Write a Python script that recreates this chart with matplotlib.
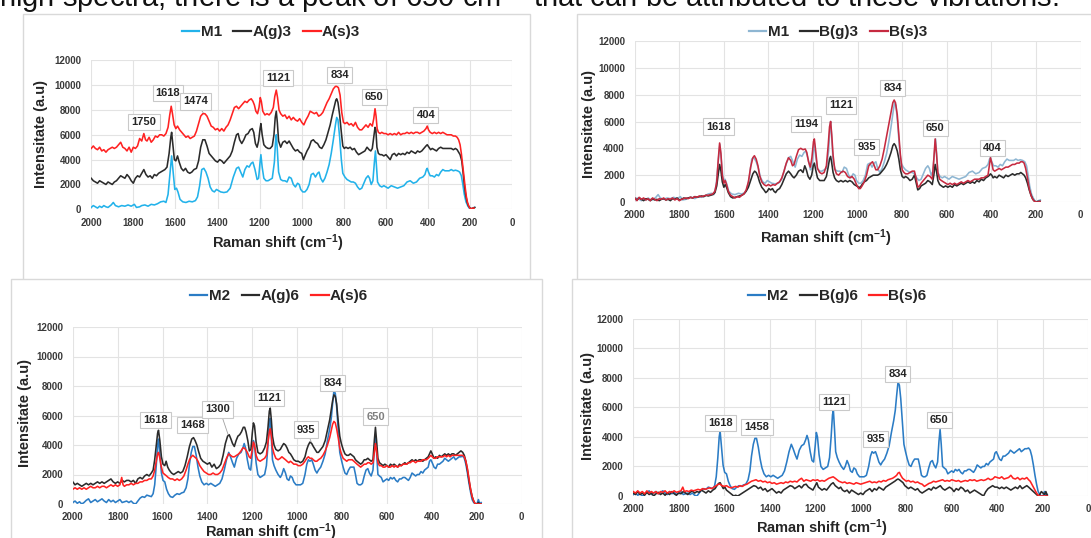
import matplotlib
matplotlib.use("Agg")
import matplotlib.pyplot as plt
from matplotlib.patches import Rectangle

# ---------------------------------------------------------------- data
# Raman spectra: (shift cm-1, intensity a.u.)
m1 = [(2000,150),(1990,300),(1980,200),(1970,100),(1960,250),(1950,150),(1940,300),(1930,200),
      (1920,150),(1905,350),(1895,550),(1885,300),(1870,200),(1855,300),(1840,250),(1825,350),
      (1810,250),(1795,400),(1785,150),(1770,200),(1760,300),(1745,350),(1730,250),(1715,400),
      (1700,350),(1685,450),(1670,600),(1655,650),(1645,550),(1635,1200),(1625,3000),(1618,4300),
      (1612,3200),(1603,1600),(1595,1700),(1588,1400),(1578,800),(1565,600),(1550,550),(1535,650),
      (1520,600),(1505,700),(1495,1000),(1485,1900),(1475,3200),(1465,3300),(1455,3000),(1445,2500),
      (1435,1800),(1425,1500),(1415,1400),(1405,1600),(1395,1500),(1385,1400),(1370,1350),(1355,1400),
      (1340,1700),(1325,2600),(1310,3300),(1300,3400),(1290,3000),(1280,2600),(1270,3200),(1260,3500),
      (1250,3400),(1240,3700),(1232,3800),(1222,3200),(1212,2400),(1205,2500),(1198,3800),(1194,4400),
      (1188,3400),(1180,2500),(1170,2300),(1160,2300),(1150,2400),(1140,2500),(1130,3800),(1124,5600),
      (1121,6000),(1116,4800),(1110,3000),(1100,2400),(1090,2300),(1080,2300),(1070,2200),(1060,2600),
      (1050,2500),(1040,2000),(1030,1800),(1020,2100),(1012,2000),(1005,1600),(995,1400),(985,1400),
      (975,1600),(965,2000),(955,2800),(945,2900),(935,2600),(925,2900),(918,3000),(910,2500),
      (900,2200),(890,2500),(880,3000),(870,3600),(860,4500),(850,5600),(840,6800),(834,7400),
      (828,7200),(820,5800),(812,4000),(805,2900),(795,2600),(785,2400),(775,2300),(765,2200),
      (755,2200),(745,2100),(735,1800),(725,1600),(715,1700),(705,2100),(695,2500),(685,2700),
      (678,2500),(670,2000),(662,2300),(655,3800),(650,4700),(645,3500),(640,2200),(630,1900),
      (620,1800),(610,1900),(600,1800),(590,1700),(575,1900),(560,1800),(545,1700),(530,1800),
      (515,1900),(500,2200),(485,2300),(470,2100),(455,2200),(440,2500),(425,2600),(415,2800),
      (408,3200),(404,3300),(398,3000),(390,2700),(380,2700),(370,2600),(360,2800),(350,2700),
      (340,3000),(330,3200),(320,3100),(310,3100),(300,3100),(290,3200),(280,3100),(270,3150),
      (260,3100),(250,3000),(242,2700),(235,2000),(228,1200),(220,600),(212,300),(205,100),
      (198,0),(190,100),(180,150)]

a_g3 = [(2000,2500),(1990,2300),(1980,2200),(1970,2100),(1960,2300),(1950,2200),(1940,2100),(1930,2000),
        (1920,2200),(1910,2100),(1900,2000),(1890,2200),(1880,2300),(1870,2500),(1860,2700),(1850,2600),
        (1840,2500),(1830,2800),(1820,2600),(1810,2300),(1800,2100),(1790,2500),(1780,2700),(1770,2600),
        (1760,2900),(1750,3200),(1740,2800),(1730,2600),(1720,2700),(1710,2500),(1700,2800),(1690,2700),
        (1680,2900),(1670,3000),(1660,3100),(1650,3200),(1640,3400),(1630,4500),(1622,5800),(1618,6200),
        (1612,5200),(1605,4000),(1598,3900),(1590,4300),(1582,3800),(1572,3300),(1562,3100),(1552,3300),
        (1542,3000),(1532,2900),(1522,3000),(1512,3200),(1500,3300),(1490,3900),(1480,5000),(1470,5600),
        (1460,5600),(1450,5100),(1440,4500),(1430,4300),(1420,4100),(1410,3900),(1400,3800),(1390,4000),
        (1380,3900),(1370,3700),(1360,3900),(1350,4100),(1340,4300),(1330,4700),(1320,5400),(1310,6000),
        (1302,6100),(1295,5600),(1285,5300),(1275,5600),(1265,6000),(1255,6100),(1245,6400),(1235,6500),
        (1228,6200),(1220,5300),(1212,5000),(1205,5500),(1198,6500),(1194,6900),(1188,6000),(1180,5200),
        (1170,5000),(1160,4900),(1150,4900),(1140,5100),(1132,6000),(1126,7400),(1121,7900),(1116,7000),
        (1110,5500),(1100,5000),(1090,5400),(1080,5500),(1070,5300),(1060,5500),(1050,5200),(1040,4900),
        (1030,4700),(1020,4800),(1010,4600),(1000,4500),(992,4000),(985,4300),(975,4700),(965,5000),
        (955,5500),(945,5600),(935,5400),(925,5300),(915,5000),(905,4900),(895,5200),(885,5600),
        (875,6200),(865,6800),(855,7600),(845,8300),(838,8800),(834,8900),(828,8600),(820,7600),
        (812,6200),(805,5100),(798,4900),(790,5000),(780,4900),(770,5000),(760,4800),(750,4900),
        (740,4600),(730,4400),(720,4500),(710,4600),(700,4700),(690,5000),(680,4800),(672,4700),
        (665,4900),(658,5800),(652,6600),(648,6400),(643,5000),(636,4500),(628,4400),(620,4400),
        (610,4300),(600,4400),(590,4200),(580,4000),(570,4400),(560,4500),(550,4300),(540,4500),
        (530,4400),(520,4500),(510,4400),(500,4600),(490,4500),(480,4700),(470,4600),(460,4500),
        (450,4700),(440,4600),(430,4700),(420,4900),(410,5100),(404,5200),(396,5000),(388,4800),
        (380,4900),(370,4800),(360,4700),(350,4900),(340,5000),(330,4900),(320,4900),(310,4900),
        (300,4900),(290,4900),(280,4800),(270,4900),(262,4800),(255,4600),(248,4400),(240,3900),
        (234,3000),(228,2000),(222,1200),(215,600),(208,250),(200,100),(192,0),(185,100),(178,150)]

a_s3 = [(2000,4900),(1990,5100),(1980,4900),(1970,4800),(1960,5000),(1950,4700),(1940,4800),(1930,4600),
        (1920,4800),(1910,4900),(1900,5000),(1890,4900),(1880,5000),(1870,5200),(1860,5400),(1850,5000),
        (1840,4900),(1830,4700),(1820,5000),(1810,4600),(1800,5000),(1790,4900),(1780,5100),(1770,5700),
        (1760,5500),(1750,6100),(1742,5600),(1735,5500),(1725,5800),(1715,5400),(1705,5600),(1695,5900),
        (1685,5800),(1675,6000),(1665,6000),(1655,5900),(1645,6100),(1635,6600),(1627,7600),(1620,8300),
        (1614,7700),(1606,6800),(1598,6500),(1590,6700),(1580,6400),(1570,6200),(1560,6000),(1550,5800),
        (1540,5900),(1530,5700),(1520,5800),(1510,5900),(1500,6300),(1490,6900),(1480,7500),(1470,7700),
        (1460,7700),(1450,7500),(1440,7100),(1430,6700),(1420,6600),(1410,6400),(1400,6500),(1390,6300),
        (1380,6500),(1370,6300),(1360,6600),(1350,6800),(1340,7200),(1330,7700),(1320,8200),(1310,8300),
        (1300,8100),(1290,8300),(1280,8500),(1270,8700),(1260,8600),(1250,8800),(1240,8900),(1232,8700),
        (1225,8400),(1218,7900),(1210,7700),(1203,8200),(1197,9000),(1192,8700),(1185,7900),(1175,7600),
        (1165,7700),(1155,7600),(1145,7800),(1135,8200),(1128,9100),(1121,9600),(1115,9000),(1108,8000),
        (1100,7700),(1090,7500),(1080,7600),(1070,7300),(1060,7500),(1050,7200),(1040,7400),(1030,7200),
        (1020,7100),(1010,7300),(1000,7000),(990,6800),(980,7200),(970,7500),(960,7900),(950,7800),
        (940,7700),(930,7800),(920,7500),(910,7600),(900,7800),(890,8200),(880,8600),(870,8900),
        (860,9300),(850,9700),(840,9900),(834,9900),(826,9800),(818,9200),(810,7800),(802,7000),
        (795,6900),(785,7000),(775,6800),(765,6900),(755,6700),(745,7000),(735,6600),(725,6400),
        (715,6400),(705,6600),(695,6800),(685,6600),(675,6900),(665,6700),(658,7300),(652,8100),
        (647,7500),(642,6500),(636,6200),(628,6100),(620,6200),(610,6100),(600,6100),(590,6000),
        (580,6100),(570,6000),(560,6100),(550,6000),(540,6200),(530,6000),(520,6100),(510,6100),
        (500,6200),(490,6100),(480,6200),(470,6100),(460,6200),(450,6200),(440,6100),(430,6200),
        (420,6300),(410,6500),(404,6700),(398,6400),(390,6200),(380,6100),(370,6200),(360,6100),
        (350,6200),(340,6100),(330,6200),(320,6100),(310,6000),(300,6000),(290,6000),(280,5900),
        (270,5900),(262,5800),(255,5600),(248,5200),(242,4500),(236,3600),(230,2700),(224,1800),
        (218,1000),(212,500),(205,200),(198,0),(190,100),(182,100)]

b_g3 = [(2000,300),(1990,150),(1980,300),(1970,200),(1960,100),(1950,250),(1940,200),(1930,100),
        (1920,250),(1910,150),(1900,200),(1890,100),(1880,200),(1870,250),(1860,150),(1850,200),
        (1840,100),(1830,250),(1820,200),(1810,300),(1800,150),(1790,200),(1780,300),(1770,250),
        (1760,300),(1750,350),(1740,300),(1730,400),(1720,350),(1710,400),(1700,450),(1690,400),
        (1680,500),(1670,450),(1660,500),(1650,550),(1640,700),(1632,1200),(1625,2100),(1619,2800),
        (1613,2300),(1607,1500),(1600,1100),(1594,1300),(1588,1100),(1580,700),(1570,400),(1560,300),
        (1550,350),(1540,400),(1530,450),(1520,500),(1510,600),(1500,800),(1490,1100),(1480,1600),
        (1470,2100),(1462,2300),(1455,2200),(1447,1900),(1440,1500),(1430,1100),(1420,900),(1412,700),
        (1405,800),(1398,1000),(1390,900),(1382,1000),(1375,800),(1368,700),(1360,900),(1350,1000),
        (1340,1300),(1330,1700),(1320,2100),(1310,2300),(1300,2100),(1292,1900),(1285,1800),(1275,2000),
        (1265,2300),(1255,2400),(1245,2200),(1237,2700),(1230,2400),(1222,1900),(1214,1700),(1206,2000),
        (1199,2700),(1194,2900),(1188,2400),(1180,1800),(1170,1600),(1160,1600),(1150,1600),(1140,1900),
        (1132,2600),(1126,3200),(1121,3400),(1116,2900),(1110,2200),(1103,1800),(1095,1600),(1085,1500),
        (1075,1600),(1065,1500),(1055,1600),(1045,1500),(1035,1600),(1025,1500),(1015,1300),(1005,1200),
        (995,1100),(988,1100),(980,1300),(970,1500),(960,1600),(950,1800),(940,1900),(930,2000),
        (920,2000),(910,2000),(900,2100),(890,2300),(880,2500),(870,2800),(860,3200),(850,3700),
        (842,4200),(836,4350),(830,4200),(822,3800),(815,3200),(808,2400),(800,1900),(792,1800),
        (785,1900),(775,1800),(765,1600),(755,1700),(745,2000),(738,1500),(730,900),(722,1000),
        (715,1200),(705,1300),(695,1400),(685,1600),(675,1500),(665,1300),(658,2000),(652,2800),
        (646,2300),(640,1600),(632,1300),(624,1200),(615,1100),(605,1200),(595,1100),(585,1200),
        (575,1100),(565,1300),(555,1200),(545,1300),(535,1400),(525,1300),(515,1400),(505,1500),
        (495,1400),(485,1500),(475,1400),(465,1600),(455,1500),(445,1700),(435,1600),(425,1800),
        (415,1900),(408,2000),(404,2100),(398,2000),(392,1800),(385,1900),(375,1800),(365,2000),
        (355,1900),(345,1800),(335,2000),(325,1900),(315,2000),(305,2100),(295,2000),(285,2100),
        (275,2100),(268,2200),(260,2100),(253,2000),(246,1800),(238,1400),(230,900),(222,500),
        (214,200),(206,50),(198,0),(190,50),(182,50)]

b_s3 = [(2000,300),(1990,100),(1980,350),(1970,200),(1960,300),(1950,150),(1940,250),(1930,100),
        (1920,300),(1910,200),(1900,100),(1890,250),(1880,200),(1870,300),(1860,150),(1850,250),
        (1840,200),(1830,300),(1820,150),(1810,250),(1800,100),(1790,200),(1780,250),(1770,300),
        (1760,250),(1750,350),(1740,300),(1730,400),(1720,350),(1710,450),(1700,400),(1690,450),
        (1680,500),(1670,500),(1660,550),(1650,600),(1640,800),(1632,1500),(1625,3200),(1619,4400),
        (1613,3600),(1607,2000),(1600,1400),(1594,1600),(1588,1300),(1580,800),(1570,500),(1560,400),
        (1550,300),(1540,400),(1530,350),(1520,500),(1510,600),(1500,900),(1490,1500),(1480,2600),
        (1470,3300),(1463,3450),(1455,3200),(1447,2700),(1440,2000),(1430,1500),(1420,1300),(1410,1200),
        (1400,1300),(1390,1200),(1380,1300),(1370,1250),(1360,1400),(1350,1500),(1340,1800),(1330,2300),
        (1320,2900),(1310,3300),(1300,3100),(1292,2700),(1285,2800),(1275,3400),(1265,3900),(1255,4000),
        (1245,3900),(1235,3950),(1228,3700),(1220,3000),(1212,2600),(1205,3300),(1198,4500),(1194,4700),
        (1188,3800),(1180,2500),(1170,2200),(1160,2100),(1150,2200),(1140,2700),(1132,4200),(1126,5600),
        (1121,6000),(1116,5000),(1110,3500),(1103,2500),(1095,2100),(1085,2000),(1075,2200),(1065,2300),
        (1055,2200),(1045,1900),(1035,1800),(1025,1900),(1015,1700),(1005,1300),(995,1000),(988,1000),
        (980,1200),(970,1500),(960,2000),(950,2700),(940,2900),(933,3000),(925,2700),(918,2400),
        (910,2400),(900,2700),(890,3200),(880,4000),(870,4900),(860,5800),(850,6700),(842,7400),
        (836,7600),(830,7400),(822,6500),(815,5000),(808,3500),(800,2400),(792,2200),(785,2100),
        (775,2100),(765,2200),(755,2300),(745,2300),(738,1800),(730,1100),(722,1200),(715,1400),
        (705,1600),(695,1800),(685,2000),(675,1900),(665,1700),(658,3200),(652,4700),(646,3600),
        (640,2200),(632,1700),(624,1600),(615,1500),(605,1400),(595,1300),(585,1400),(575,1300),
        (565,1400),(555,1300),(545,1400),(535,1500),(525,1400),(515,1500),(505,1600),(495,1500),
        (485,1600),(475,1700),(465,1700),(455,1700),(445,1800),(435,1800),(425,1900),(415,2000),
        (408,2800),(404,3300),(398,2900),(392,2400),(385,2300),(375,2400),(365,2500),(355,2400),
        (345,2500),(335,2600),(325,2600),(315,2700),(305,2800),(295,2800),(285,2900),(275,2900),
        (268,3000),(260,3000),(253,2900),(246,2500),(238,1800),(230,1000),(222,500),(214,200),
        (206,50),(198,0),(190,0),(182,50)]

m2 = [(2000,100),(1990,200),(1980,50),(1970,150),(1960,0),(1950,100),(1940,250),(1930,350),
      (1920,100),(1910,200),(1900,300),(1890,150),(1880,250),(1870,350),(1860,200),(1850,100),
      (1840,300),(1830,150),(1820,250),(1810,100),(1800,200),(1790,300),(1780,100),(1770,150),
      (1760,200),(1750,100),(1740,200),(1730,50),(1720,0),(1710,200),(1700,400),(1690,500),
      (1680,450),(1670,600),(1660,550),(1650,500),(1642,700),(1635,1300),(1628,2600),(1622,4000),
      (1618,4400),(1612,3300),(1605,2100),(1598,1600),(1590,1500),(1582,1000),(1574,700),(1565,500),
      (1555,450),(1545,600),(1535,700),(1525,650),(1515,750),(1505,800),(1495,1100),(1487,1700),
      (1480,2700),(1472,3500),(1465,3900),(1458,3900),(1450,3300),(1442,2500),(1434,1900),(1425,1500),
      (1415,1300),(1405,1400),(1395,1300),(1385,1400),(1375,1300),(1365,1200),(1355,1300),(1345,1400),
      (1335,1700),(1325,2300),(1315,3000),(1305,3500),(1297,3200),(1288,2800),(1280,2500),(1270,3100),
      (1260,3400),(1250,3500),(1242,3800),(1236,4100),(1230,3800),(1222,3000),(1214,2400),(1207,2300),
      (1200,3400),(1195,4300),(1190,4000),(1183,2800),(1175,2000),(1165,1800),(1155,1900),(1145,2000),
      (1137,2600),(1130,4000),(1124,5500),(1120,5800),(1115,4500),(1110,3000),(1103,2600),(1095,2300),
      (1085,2000),(1075,1800),(1068,2000),(1060,2400),(1052,2100),(1045,1700),(1037,1600),(1030,1900),
      (1022,1800),(1015,1500),(1005,1300),(995,1300),(985,1300),(975,1400),(965,2000),(957,2700),
      (950,3000),(943,2900),(935,3000),(928,2700),(920,2300),(912,2100),(905,2300),(895,2500),
      (885,2900),(875,3400),(865,4300),(855,5100),(848,5800),(842,6800),(836,7700),(830,7500),
      (824,6600),(817,5000),(810,3500),(803,3000),(795,2500),(787,2100),(779,2000),(771,2300),
      (763,2500),(755,2500),(747,2500),(740,2000),(733,1400),(725,1300),(717,1300),(709,1400),
      (701,1900),(693,2300),(685,2400),(678,2100),(670,1900),(662,2300),(656,3700),(651,4500),
      (646,3500),(640,2000),(633,1900),(625,1800),(617,1500),(609,1600),(600,1700),(592,1600),
      (584,1800),(576,1700),(568,1800),(560,1600),(552,1500),(544,1700),(536,1700),(528,1800),
      (520,1800),(512,1700),(504,1600),(496,1800),(488,2100),(480,2000),(472,1900),(464,2000),
      (456,2000),(448,2200),(440,2100),(432,2300),(424,2400),(416,2500),(410,2900),(404,3000),
      (398,2800),(390,2500),(382,2400),(374,2700),(366,2700),(358,2800),(350,2900),(342,3100),
      (334,3000),(326,2900),(318,3000),(310,3100),(302,3200),(294,3000),(286,3100),(278,3200),
      (270,3200),(262,3250),(255,3100),(248,2700),(241,2100),(234,1400),(227,800),(220,300),
      (213,100),(206,0),(199,0),(192,300),(186,0),(180,100)]

a_g6 = [(2000,1500),(1990,1300),(1980,1400),(1970,1300),(1960,1200),(1950,1300),(1940,1400),(1930,1300),
        (1920,1400),(1910,1300),(1900,1400),(1890,1500),(1880,1400),(1870,1500),(1860,1400),(1850,1500),
        (1840,1600),(1830,1700),(1820,1500),(1810,1400),(1800,1500),(1790,1400),(1780,1600),(1770,1500),
        (1760,1600),(1750,1600),(1740,1500),(1730,1600),(1720,1400),(1710,1700),(1700,1800),(1690,1700),
        (1680,1900),(1670,2000),(1660,1900),(1650,2100),(1642,2300),(1635,3000),(1628,4000),(1622,4800),
        (1618,5000),(1612,4300),(1605,3200),(1598,2700),(1590,2600),(1584,2900),(1577,2500),(1570,2300),
        (1560,2100),(1550,2000),(1540,2100),(1530,2200),(1520,2100),(1510,2200),(1500,2600),(1490,3200),
        (1480,3900),(1470,4400),(1462,4500),(1455,4300),(1447,4000),(1440,3600),(1430,3100),(1420,2900),
        (1410,2800),(1400,2700),(1390,2800),(1380,2500),(1370,2700),(1360,2400),(1350,2500),(1340,2700),
        (1330,3300),(1320,4100),(1310,4600),(1303,4700),(1295,4400),(1288,4100),(1280,3900),(1272,4300),
        (1264,4600),(1256,4700),(1248,4900),(1240,5200),(1234,5200),(1228,4900),(1220,4300),(1213,3600),
        (1206,3700),(1200,4800),(1195,5500),(1190,5300),(1183,4200),(1175,3500),(1165,3400),(1155,3500),
        (1145,3800),(1137,4200),(1130,5200),(1124,6300),(1120,6500),(1115,5700),(1110,4600),(1103,4000),
        (1095,3700),(1085,3600),(1075,3700),(1068,3900),(1060,4100),(1052,4000),(1045,3800),(1037,3500),
        (1030,3400),(1022,3200),(1015,3000),(1005,2900),(995,2900),(985,2800),(975,2900),(965,3200),
        (957,3700),(950,4000),(943,4200),(935,4100),(928,3900),(920,3700),(912,3500),(905,3500),
        (895,3700),(885,3900),(875,4300),(865,5000),(855,5700),(848,6400),(842,7000),(836,7400),
        (830,7300),(824,6800),(817,5600),(810,4600),(803,4100),(795,3700),(787,3400),(779,3300),
        (771,3300),(763,3400),(755,3300),(747,3200),(740,3000),(733,2900),(725,2800),(717,2700),
        (709,2800),(701,3000),(693,3000),(685,3100),(678,3000),(670,2900),(662,3000),(656,4300),
        (651,5200),(646,4300),(640,3100),(633,2800),(625,2700),(617,2600),(609,2700),(600,2600),
        (592,2500),(584,2700),(576,2600),(568,2700),(560,2600),(552,2500),(544,2700),(536,2600),
        (528,2700),(520,2800),(512,2700),(504,2800),(496,2900),(488,3000),(480,2900),(472,3000),
        (464,2900),(456,3000),(448,3000),(440,2900),(432,3000),(424,3100),(416,3200),(410,3400),
        (404,3600),(398,3400),(390,3100),(382,3200),(374,3100),(366,3300),(358,3200),(350,3300),
        (342,3400),(334,3300),(326,3400),(318,3300),(310,3400),(302,3400),(294,3300),(286,3400),
        (278,3500),(270,3600),(262,3500),(255,3300),(248,2900),(241,2300),(234,1600),(227,1000),
        (220,500),(213,200),(206,0),(199,0),(192,100),(186,0),(180,0)]

a_s6 = [(2000,1000),(1990,1100),(1980,1000),(1970,1100),(1960,1000),(1950,1100),(1940,1000),(1930,1100),
        (1920,1200),(1910,1100),(1900,1100),(1890,1200),(1880,1100),(1870,1200),(1860,1200),(1850,1100),
        (1840,1200),(1830,1300),(1820,1200),(1810,1300),(1800,1200),(1790,1300),(1782,1800),(1776,1300),
        (1770,1200),(1760,1300),(1750,1300),(1740,1400),(1730,1300),(1720,1400),(1710,1400),(1700,1500),
        (1690,1500),(1680,1600),(1670,1600),(1660,1700),(1650,1700),(1642,1900),(1635,2300),(1628,2900),
        (1622,3400),(1618,3500),(1612,3100),(1605,2500),(1598,2100),(1590,2000),(1582,1900),(1575,1800),
        (1565,1700),(1555,1700),(1545,1600),(1535,1700),(1525,1600),(1515,1700),(1505,1900),(1495,2300),
        (1487,2700),(1480,3000),(1472,3200),(1465,3300),(1458,3200),(1450,3100),(1442,2900),(1434,2600),
        (1425,2400),(1415,2200),(1405,2100),(1395,2000),(1385,2000),(1375,2100),(1365,2000),(1355,2000),
        (1345,2100),(1335,2300),(1325,2700),(1315,3100),(1305,3400),(1297,3300),(1288,3200),(1280,3200),
        (1270,3300),(1260,3400),(1250,3600),(1242,3800),(1236,3800),(1230,3700),(1222,3500),(1214,3200),
        (1207,3100),(1200,3700),(1195,4200),(1190,4000),(1183,3300),(1175,3000),(1165,2900),(1155,3000),
        (1145,3100),(1137,3300),(1130,4200),(1124,4900),(1120,5100),(1115,4600),(1110,3800),(1103,3400),
        (1095,3100),(1085,3000),(1075,3100),(1068,3200),(1060,3100),(1052,3000),(1045,2900),(1037,2800),
        (1030,2900),(1022,2800),(1015,2700),(1005,2700),(995,2600),(985,2600),(975,2700),(965,2900),
        (957,3100),(950,3200),(943,3100),(935,3100),(928,3000),(920,2900),(912,2900),(905,3000),
        (895,3100),(885,3300),(875,3600),(865,4000),(855,4500),(848,5000),(842,5400),(836,5600),
        (830,5500),(824,5100),(817,4500),(810,3800),(803,3400),(795,3100),(787,3000),(779,2900),
        (771,3000),(763,3000),(755,3000),(747,2900),(740,2800),(733,2700),(725,2600),(717,2500),
        (709,2600),(701,2700),(693,2700),(685,2800),(678,2800),(670,2700),(662,2800),(656,3500),
        (651,4100),(646,3600),(640,2800),(633,2600),(625,2600),(617,2500),(609,2500),(600,2600),
        (592,2500),(584,2500),(576,2600),(568,2500),(560,2600),(552,2500),(544,2600),(536,2600),
        (528,2700),(520,2700),(512,2700),(504,2800),(496,2800),(488,2900),(480,2900),(472,2800),
        (464,2900),(456,2900),(448,2900),(440,3000),(432,3000),(424,3000),(416,3100),(410,3200),
        (404,3300),(398,3200),(390,3100),(382,3100),(374,3200),(366,3200),(358,3200),(350,3200),
        (342,3300),(334,3200),(326,3300),(318,3200),(310,3300),(302,3300),(294,3300),(286,3300),
        (278,3300),(270,3300),(262,3300),(255,3200),(248,2900),(241,2400),(234,1700),(227,1000),
        (220,500),(213,200),(206,0),(199,0),(192,0),(186,0),(180,0)]

b_g6 = [(2000,200),(1990,100),(1980,300),(1970,100),(1960,200),(1950,50),(1940,250),(1930,100),
        (1920,200),(1910,0),(1900,150),(1890,250),(1880,100),(1870,200),(1860,50),(1850,200),
        (1840,100),(1830,300),(1820,150),(1810,50),(1800,200),(1790,150),(1780,300),(1770,200),
        (1760,100),(1750,250),(1740,350),(1730,200),(1720,300),(1710,250),(1700,400),(1690,300),
        (1680,200),(1670,350),(1660,250),(1650,400),(1640,500),(1632,700),(1625,850),(1618,900),
        (1611,700),(1604,500),(1597,600),(1590,400),(1582,300),(1574,200),(1566,100),(1558,0),
        (1550,50),(1540,0),(1530,100),(1520,200),(1510,300),(1500,400),(1490,500),(1480,600),
        (1470,700),(1460,650),(1450,500),(1440,600),(1430,400),(1420,500),(1410,300),(1400,400),
        (1390,500),(1380,350),(1370,200),(1360,300),(1350,200),(1340,400),(1330,500),(1320,600),
        (1310,700),(1300,650),(1290,500),(1280,600),(1270,700),(1260,550),(1250,750),(1240,800),
        (1230,600),(1220,500),(1210,400),(1200,700),(1193,900),(1186,600),(1178,500),(1170,400),
        (1160,500),(1150,400),(1140,600),(1130,800),(1121,900),(1112,700),(1104,600),(1096,500),
        (1088,600),(1080,400),(1070,300),(1060,400),(1050,200),(1040,400),(1030,300),(1020,200),
        (1010,100),(1000,200),(990,100),(980,300),(970,400),(960,500),(950,300),(940,500),
        (930,400),(920,600),(910,500),(900,400),(890,600),(880,700),(870,800),(860,900),
        (850,1000),(842,1100),(836,1150),(830,1100),(822,1000),(814,900),(806,700),(798,600),
        (790,500),(780,600),(770,500),(760,400),(750,500),(740,300),(730,200),(720,300),
        (710,400),(700,500),(690,400),(680,600),(670,500),(660,600),(650,700),(640,500),
        (630,400),(620,500),(610,600),(600,500),(590,300),(580,500),(570,400),(560,600),
        (550,500),(540,300),(530,400),(520,200),(510,300),(500,400),(490,300),(480,200),
        (470,100),(460,0),(450,300),(440,500),(430,600),(420,700),(410,600),(400,600),
        (390,500),(380,600),(370,500),(360,600),(350,500),(340,400),(330,500),(320,600),
        (310,500),(300,700),(290,500),(280,600),(270,700),(262,600),(255,500),(248,400),
        (241,300),(234,200),(227,100),(220,0),(213,100),(206,300),(199,200),(192,100),
        (186,300),(180,50)]

b_s6 = [(2000,300),(1990,200),(1980,350),(1970,200),(1960,300),(1950,150),(1940,350),(1930,200),
        (1920,300),(1910,200),(1900,300),(1890,150),(1880,300),(1870,250),(1860,350),(1850,200),
        (1840,300),(1830,250),(1820,350),(1810,250),(1800,300),(1790,350),(1782,600),(1775,300),
        (1765,350),(1755,300),(1745,400),(1735,350),(1725,400),(1715,450),(1705,400),(1695,500),
        (1685,450),(1675,500),(1665,550),(1655,500),(1645,600),(1635,700),(1625,800),(1618,800),
        (1610,700),(1600,650),(1590,700),(1580,600),(1570,550),(1560,600),(1550,650),(1540,600),
        (1530,700),(1520,650),(1510,750),(1500,800),(1490,900),(1480,1000),(1470,1050),(1460,1100),
        (1450,1000),(1440,1050),(1430,950),(1420,1000),(1410,900),(1400,950),(1390,850),(1380,900),
        (1370,800),(1360,850),(1350,900),(1340,850),(1330,950),(1320,900),(1310,1000),(1300,950),
        (1290,1000),(1280,950),(1270,1100),(1260,1200),(1250,1000),(1240,1100),(1230,1050),(1220,1000),
        (1210,1100),(1200,1050),(1190,1100),(1180,1000),(1170,1050),(1160,1000),(1150,1100),(1140,1200),
        (1130,1250),(1121,1300),(1112,1200),(1104,1100),(1096,1000),(1088,950),(1080,900),(1070,950),
        (1060,850),(1050,900),(1040,850),(1030,800),(1020,900),(1010,850),(1000,800),(990,850),
        (980,900),(970,950),(960,1000),(950,900),(940,950),(930,900),(920,1000),(910,950),
        (900,1050),(890,1000),(880,1100),(870,1150),(860,1200),(850,1300),(842,1400),(836,1550),
        (830,1600),(824,1400),(816,1200),(808,1100),(800,1000),(790,1050),(780,950),(770,1000),
        (760,900),(750,950),(740,850),(730,800),(720,650),(710,750),(700,850),(690,900),
        (680,1000),(670,950),(660,1000),(650,1050),(640,1100),(630,1000),(620,1050),(610,1000),
        (600,1100),(590,1050),(580,1000),(570,1050),(560,950),(550,1000),(540,1050),(530,1000),
        (520,1100),(510,1050),(500,1100),(490,1000),(480,1050),(470,1100),(460,1050),(450,1100),
        (440,1200),(430,1100),(420,1150),(410,1300),(400,1250),(390,1200),(380,1300),(370,1150),
        (360,1200),(350,1250),(340,1400),(330,1200),(320,1150),(310,1250),(300,1100),(290,1200),
        (280,1150),(270,1250),(262,1100),(255,1000),(248,800),(241,600),(234,400),(227,200),
        (220,50),(213,0),(206,0),(199,0),(192,0),(186,0),(180,0)]

# Peak annotations: (text, label centre shift, label centre intensity)
peaks_a3 = [("1750", 1749, 7020), ("1618", 1635, 9380), ("1474", 1503, 8690), ("1121", 1111, 10560),
            ("834", 821, 10830), ("650", 656, 9040), ("404", 410, 7610)]
peaks_b3 = [("1618", 1623, 5620), ("1194", 1231, 5790), ("1121", 1074, 7200), ("935", 959, 4100),
            ("834", 843, 8520), ("650", 651, 5540), ("404", 394, 4030)]
peaks_a6 = [("1618", 1633, 5710), ("1468", 1468, 5370), ("1300", 1354, 6410), ("1121", 1124, 7180),
            ("935", 960, 5050), ("834", 841, 8200), ("650", 651, 5930)]
peaks_b6 = [("1618", 1617, 4940), ("1458", 1456, 4670), ("1121", 1116, 6360), ("935", 935, 3880),
            ("834", 837, 8280), ("650", 654, 5120)]

x_ticks = list(range(0, 2001, 200))
y_ticks = list(range(0, 12001, 2000))

# ---------------------------------------------------------------- style
plt.rcParams['font.family'] = ['Liberation Sans', 'DejaVu Sans']
plt.rcParams['mathtext.fontset'] = 'custom'
plt.rcParams['mathtext.rm'] = 'Liberation Sans'
plt.rcParams['mathtext.bf'] = 'Liberation Sans:bold'
plt.rcParams['mathtext.it'] = 'Liberation Sans:italic'

W, H = 1091, 538
fig = plt.figure(figsize=(W / 100, H / 100), dpi=100)
fig.patch.set_facecolor('white')

TXT = '#262626'
CYAN, GREY_BLUE, BLUE = '#22b2ea', '#8eb6d2', '#2b7cc5'
BLACK, RED, CRIMSON = '#2b2b2b', '#ff2222', '#c62a40'


def fx(px):
    return px / W


def fy(py):
    return 1 - py / H


def frame(l, t, r, b, z):
    fig.add_artist(Rectangle((fx(l), fy(b)), fx(r - l), (b - t) / H, transform=fig.transFigure,
                             facecolor='white', edgecolor='#d9d9d9', lw=1.0, zorder=z))


def panel(rect, series, peaks, legend_xy, xlabel_xy, ylabel_xy, leaders=(), grey_labels=()):
    l, t, r, b = rect
    ax = fig.add_axes([fx(l), fy(b), fx(r - l), (b - t) / H])
    ax.set_facecolor('none')
    for name, pts, color in series:
        xs = [p[0] for p in pts]
        ys = [p[1] for p in pts]
        ax.plot(xs, ys, color=color, lw=1.15, label=name, solid_joinstyle='round')
    ax.set_xlim(2000, 0)
    ax.set_ylim(0, 12000)
    ax.set_xticks(x_ticks)
    ax.set_yticks(y_ticks)
    ax.grid(True, color='#e3e3e3', lw=0.8)
    ax.set_axisbelow(True)
    for s in ax.spines.values():
        s.set_visible(False)
    ax.tick_params(axis='both', length=0, labelsize=7, colors='#3a3a3a')
    ax.tick_params(axis='x', pad=6)
    ax.tick_params(axis='y', pad=7)
    for lab in ax.get_xticklabels() + ax.get_yticklabels():
        lab.set_fontweight('bold')
    for x0, y0, x1, y1 in leaders:
        ax.plot([x0, x1], [y0, y1], color='#a0a0a0', lw=0.6, zorder=4)
    for text, px, py in peaks:
        ax.text(px, py, text, ha='center', va='center', fontsize=8, fontweight='bold',
                color='#808080' if text in grey_labels else TXT, zorder=6,
                bbox=dict(boxstyle='square,pad=0.28', fc='white', ec='#c9c9c9', lw=0.8))
    leg = ax.legend(loc='center', bbox_to_anchor=(fx(legend_xy[0]), fy(legend_xy[1])),
                    bbox_transform=fig.transFigure, ncol=3, frameon=False,
                    prop={'weight': 'bold', 'size': 11}, handlelength=1.15,
                    handletextpad=0.1, columnspacing=0.75, borderpad=0)
    for h in leg.get_lines():
        h.set_linewidth(1.6)
    for txt in leg.get_texts():
        txt.set_color(TXT)
    fig.text(fx(xlabel_xy[0]), fy(xlabel_xy[1]), r'Raman shift (cm$^{\mathbf{-1}}$)',
             ha='center', va='center', fontsize=10.5, fontweight='bold', color=TXT)
    fig.text(fx(ylabel_xy[0]), fy(ylabel_xy[1]), 'Intensitate (a.u)', rotation=90,
             ha='center', va='center', fontsize=10.5, fontweight='bold', color=TXT)
    return ax


# chart frames (later ones overlap the lower edge of the upper ones)
frame(22.5, 13.5, 529.5, 300, -4)
frame(576.5, 13.5, 1100, 300, -4)
frame(10.5, 278.5, 541.5, 560, -3)
frame(571.5, 278.5, 1100, 560, -3)

panel((91.2, 60.3, 512.3, 209.3),
      [("M1", m1, CYAN), ("A(g)3", a_g3, BLACK), ("A(s)3", a_s3, RED)],
      peaks_a3, (271, 32), (278, 243), (41, 134),
      leaders=[(1482, 8120, 1468, 7780)])

panel((634.7, 41, 1080.5, 202),
      [("M1", m1, GREY_BLUE), ("B(g)3", b_g3, BLACK), ("B(s)3", b_s3, CRIMSON)],
      peaks_b3, (838, 32), (826, 238), (589, 124))

panel((72.8, 327, 521.5, 504),
      [("M2", m2, BLUE), ("A(g)6", a_g6, BLACK), ("A(s)6", a_s6, RED)],
      peaks_a6, (279, 296), (271, 532), (25, 413),
      leaders=[(1335, 5930, 1308, 4720), (946, 4580, 938, 4230)], grey_labels=("650",))

panel((633.2, 318.7, 1088.2, 496),
      [("M2", m2, BLUE), ("B(g)6", b_g6, BLACK), ("B(s)6", b_s6, RED)],
      peaks_b6, (837, 296), (822, 528), (588, 406))

# running text of the page above the figures
fig.text(fx(-1), fy(7), r'high spectra, there is a peak of 650 cm$^{-1}$ that can be attributed to these vibrations.',
         ha='left', va='baseline', fontsize=21, color='#111111')

fig.savefig('out.png', dpi=100, facecolor='white')
